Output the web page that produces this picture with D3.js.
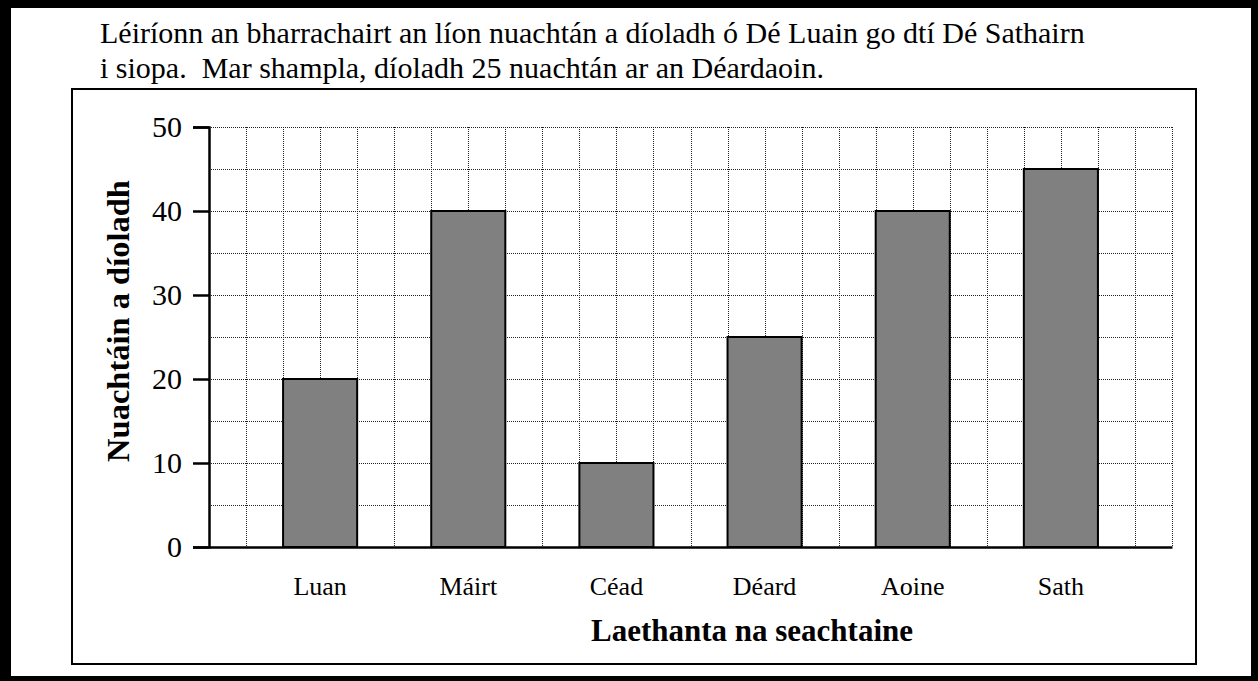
<!DOCTYPE html>
<html><head><meta charset="utf-8">
<script src="https://cdn.jsdelivr.net/npm/d3@7"></script>
<style>html,body{margin:0;padding:0;background:#fff;}svg{display:block;}</style>
</head><body>
<svg id="c" width="1258" height="681"></svg>
<script>
const categories = ["Luan", "Máirt", "Céad", "Déard", "Aoine", "Sath"];
const values = [20, 40, 10, 25, 40, 45];
const yTicks = [0, 10, 20, 30, 40, 50];
const titleLines = [
  "Léiríonn an bharrachairt an líon nuachtán a díoladh ó Dé Luain go dtí Dé Sathairn",
  "i siopa.  Mar shampla, díoladh 25 nuachtán ar an Déardaoin."
];
const xTitle = "Laethanta na seachtaine";
const yTitle = "Nuachtáin a díoladh";

(function(){
const W = 1258, H = 681;
const svg = d3.select("#c");
const font = "'Liberation Serif','Times New Roman',serif";

// outer thick frame
svg.append("rect").attr("x",0).attr("y",0).attr("width",W).attr("height",H).attr("fill","#000");
svg.append("rect").attr("x",11).attr("y",8).attr("width",W-11-7).attr("height",H-8-5).attr("fill","#fff");

// title
titleLines.forEach((t,i)=>{
  svg.append("text").attr("x",100).attr("y",43+i*35)
    .attr("font-family",font).attr("font-size",30).attr("fill","#000")
    .style("white-space","pre").text(t);
});

// inner frame
svg.append("rect").attr("x",72).attr("y",89).attr("width",1196-72).attr("height",664-89)
  .attr("fill","none").attr("stroke","#000").attr("stroke-width",2);

const pl = 209, pr = 1172, pt = 127, pb = 547;
const x = d3.scaleBand().domain(categories).range([pl,pr]).paddingInner(0.5).paddingOuter(0.5);
const y = d3.scaleLinear().domain([0,50]).range([pb,pt]);

const g = svg.append("g");
const hGrid = d3.range(5, 51, 5);
g.selectAll("line.hg").data(hGrid).join("line")
  .attr("x1",pl).attr("x2",pr)
  .attr("y1",d=>Math.round(y(d))+0.5).attr("y2",d=>Math.round(y(d))+0.5)
  .attr("stroke","#222").attr("stroke-width",1).attr("stroke-dasharray","1,1");
const col = x.step()/4;
const nCols = Math.round((pr-pl)/col);
const vGrid = d3.range(1, nCols+1).map(i=>pl+i*col);
g.selectAll("line.vg").data(vGrid).join("line")
  .attr("y1",pt).attr("y2",pb)
  .attr("x1",d=>Math.round(d)+0.5).attr("x2",d=>Math.round(d)+0.5)
  .attr("stroke","#222").attr("stroke-width",1).attr("stroke-dasharray","1,1");

g.selectAll("rect.bar").data(values).join("rect")
  .attr("x",(d,i)=>x(categories[i])).attr("width",x.bandwidth())
  .attr("y",d=>y(d)).attr("height",d=>pb-y(d))
  .attr("fill","#808080").attr("stroke","#000").attr("stroke-width",2);

const yAxis = d3.axisLeft(y).tickValues(yTicks).tickSize(16).tickPadding(11);
const ya = svg.append("g").attr("transform",`translate(${pl},0)`).call(yAxis);
ya.attr("font-family",font);
ya.select(".domain").attr("stroke","#000").attr("stroke-width",2.5);
ya.selectAll(".tick line").attr("stroke","#000").attr("stroke-width",2.5);
ya.selectAll(".tick text").attr("font-family",font).attr("font-size",30).attr("fill","#000");

const xAxis = d3.axisBottom(x).tickSize(0).tickPadding(30);
const xa = svg.append("g").attr("transform",`translate(0,${pb})`).call(xAxis);
xa.attr("font-family",font);
xa.select(".domain").attr("stroke","#000").attr("stroke-width",2.5);
xa.selectAll(".tick text").attr("font-family",font).attr("font-size",26).attr("fill","#000");

svg.append("text").attr("x",752).attr("y",641).attr("text-anchor","middle")
  .attr("font-family",font).attr("font-weight","bold").attr("font-size",31).text(xTitle);
svg.append("text").attr("transform","translate(129,321) rotate(-90)").attr("text-anchor","middle")
  .attr("font-family",font).attr("font-weight","bold").attr("font-size",32.5).text(yTitle);
})();
</script>
</body></html>
